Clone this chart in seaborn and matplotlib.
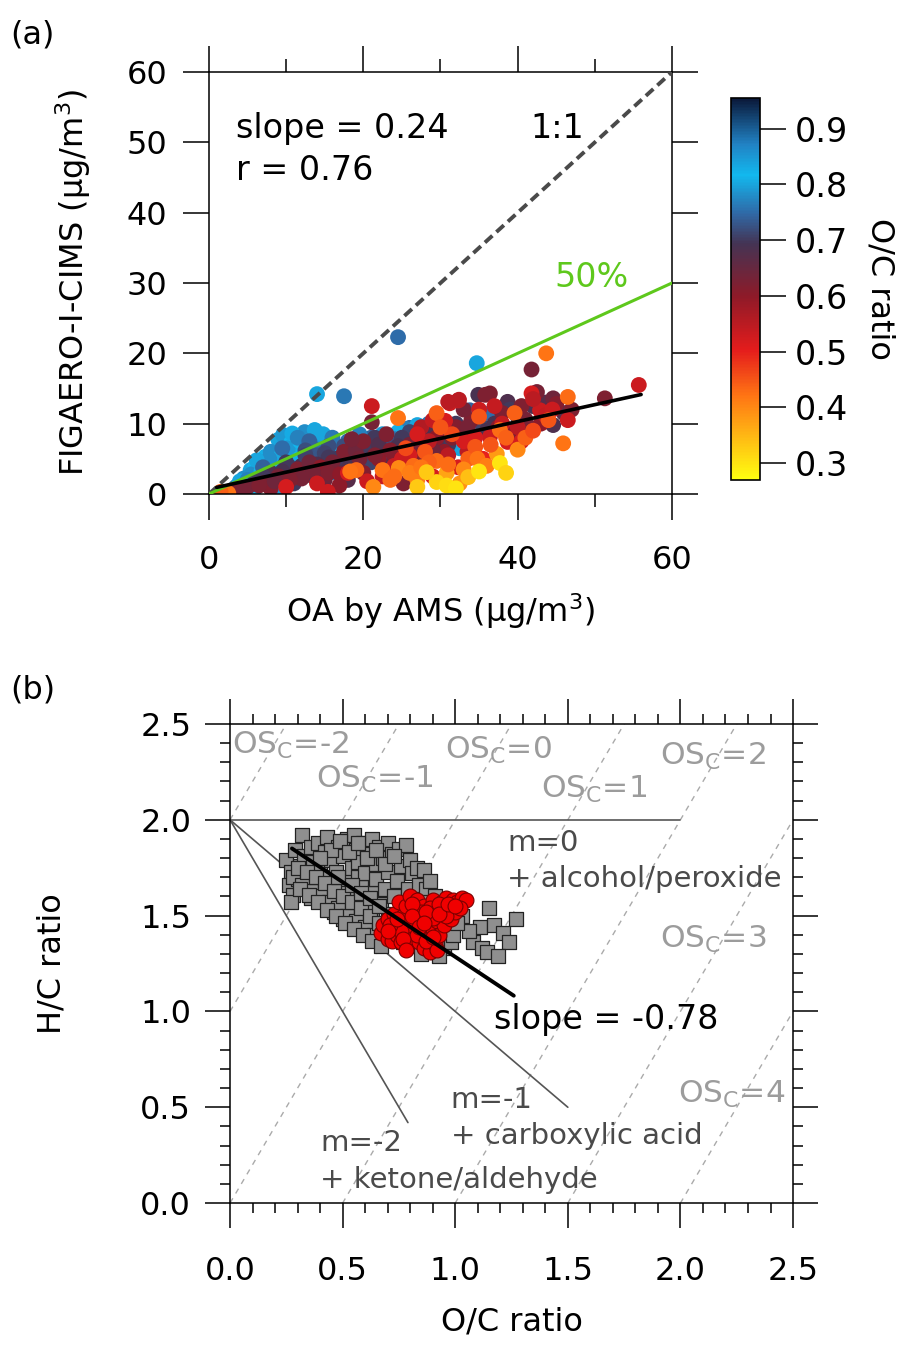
import numpy as np
import pandas as pd
import matplotlib
matplotlib.use('Agg')
import matplotlib.pyplot as plt
import seaborn as sns
from matplotlib.colors import LinearSegmentedColormap, Normalize
from matplotlib.cm import ScalarMappable
from matplotlib.ticker import MultipleLocator, FormatStrFormatter

# --- Panel (a): FIGAERO-I-CIMS vs AMS OA, coloured by O/C ---
oa_ams = [5.4, 6.0, 7.3, 9.0, 9.6, 10.6, 12.4, 13.7, 8.0, 8.5, 10.0, 11.0, 11.5, 12.0, 7.0, 6.5, 9.5,
          13.0, 14.0, 15.0, 16.0, 14.5, 17.0, 18.0, 4.5, 5.0, 8.0, 10.5, 12.5, 3.5, 19.0, 20.5, 22.0,
          14.0, 17.5, 24.5, 34.7, 26.0, 25.6, 26.7, 28.0, 29.0, 32.5, 33.8, 36.4, 30.0, 23.5, 16.5,
          19.5, 24.0, 27.5, 21.0, 9.0, 6.0,
          4.0, 5.5, 6.8, 7.5, 8.8, 9.2, 10.2, 11.2, 12.8, 13.5, 14.8, 15.5, 16.5, 17.8, 18.5, 20.0,
          21.5, 22.5, 24.5, 25.0, 26.5, 27.0, 28.5, 11.8, 10.8, 7.8, 6.2, 5.0,
          12.0, 14.0, 16.0, 18.0, 19.5, 21.0, 23.0, 24.0, 26.0, 27.5, 29.5, 31.0, 9.5, 11.5, 13.0,
          15.5, 17.0, 20.0, 22.5, 7.0,
          10.5, 12.5, 15.0, 17.5, 19.5, 21.5, 23.5, 26.0, 28.0, 30.5,
          4.0, 6.0, 8.0, 10.0, 12.0, 13.5, 15.5, 17.0, 19.0, 21.0, 23.0, 25.0, 27.0, 28.7, 31.0, 34.9,
          38.7, 44.6, 40.0, 35.5, 33.0, 42.0, 18.0, 22.5, 30.0, 37.0, 46.0, 11.0,
          7.0, 9.5, 12.5, 14.0, 16.5, 18.5, 20.5, 22.0, 24.5, 26.5, 29.5, 32.0, 36.0, 39.0, 41.5, 43.5,
          3.0, 5.0, 7.0, 9.0, 11.5, 13.0, 14.5, 16.0, 17.5, 19.0, 20.0, 21.1, 22.0, 23.0, 24.0, 25.2,
          16.9, 26.0, 28.0, 29.5, 32.0, 34.0, 35.8, 36.4, 39.6, 41.0, 41.8, 44.6, 51.3, 43.0, 38.0,
          12.0, 8.0, 27.0, 30.5, 45.0, 33.0, 15.0, 20.0, 18.5,
          4.5, 6.5, 8.5, 10.5, 13.5, 15.5, 17.0, 19.5, 21.5, 23.5, 25.5, 27.5, 29.0, 31.5, 33.5, 37.5,
          40.5, 42.5, 47.0,
          21.1, 15.4, 31.2, 32.3, 30.6, 32.3, 36.4, 38.7, 41.8, 42.9, 43.6, 55.7, 32.4, 31.0, 24.0,
          26.0, 28.5, 34.5, 37.0, 40.0, 18.0, 14.0, 10.0, 22.5, 35.5, 29.0, 46.5, 27.5, 33.5, 20.5,
          25.0, 27.0, 29.0, 31.0, 33.0, 35.0, 38.0, 40.5, 42.0, 44.5,
          2.5, 21.3, 19.1, 22.5, 18.3, 24.6, 24.5, 46.5, 43.7, 45.9, 37.3, 40.0, 30.8, 29.5, 33.6,
          34.5, 34.8, 29.5, 37.7, 39.6, 26.5, 28.0, 31.5, 35.0, 41.0, 30.0, 27.0, 25.5, 32.5, 36.0,
          23.5, 1.5, 24.0, 26.0, 28.5, 31.0, 33.0, 36.5, 38.5, 42.0, 44.0, 27.5,
          37.7, 29.5, 28.2, 33.6, 30.8, 35.0, 27.0, 38.5, 32.0]
cims = [3.4, 3.9, 5.3, 7.7, 8.4, 7.2, 8.8, 9.1, 6.0, 4.5, 5.5, 6.2, 5.0, 6.8, 4.2, 2.5, 3.5,
        5.8, 7.0, 6.0, 7.2, 4.8, 5.5, 6.4, 2.2, 1.5, 2.2, 2.8, 3.5, 1.0, 7.0, 5.8, 6.5,
        14.2, 13.9, 22.3, 18.6, 9.4, 9.2, 9.1, 8.5, 5.3, 6.5, 11.9, 11.5, 8.0, 7.5, 3.0,
        4.0, 6.0, 7.0, 8.0, 1.0, 0.8,
        1.8, 2.8, 3.2, 2.8, 4.0, 5.2, 6.5, 4.2, 4.8, 6.5, 8.5, 4.0, 6.0, 4.8, 5.8, 6.8,
        7.2, 8.5, 8.8, 7.2, 8.0, 9.8, 10.0, 7.5, 8.6, 5.0, 4.8, 2.0,
        3.0, 5.5, 8.0, 7.5, 8.5, 6.0, 6.8, 7.8, 6.5, 8.2, 7.5, 9.0, 6.5, 8.0, 7.5,
        6.8, 3.5, 4.2, 4.8, 3.8,
        3.8, 6.2, 5.8, 6.8, 6.0, 8.0, 7.0, 8.8, 7.8, 8.2,
        0.2, 1.8, 3.0, 4.5, 4.0, 2.5, 5.2, 4.2, 5.5, 4.5, 5.2, 8.0, 6.0, 9.2, 7.0, 14.1,
        13.1, 9.8, 11.0, 9.5, 8.5, 12.5, 2.0, 6.0, 10.5, 10.0, 11.5, 1.5,
        2.5, 3.2, 5.5, 4.2, 5.0, 4.5, 6.5, 7.0, 6.8, 7.5, 6.8, 10.0, 9.0, 12.0, 9.5, 13.0,
        0.5, 1.0, 1.5, 2.5, 3.5, 4.5, 3.8, 4.5, 6.0, 6.2, 7.5, 10.2, 5.0, 8.5, 5.5, 1.5,
        1.2, 7.0, 6.5, 8.0, 9.5, 10.5, 14.1, 14.3, 8.8, 10.6, 17.7, 13.6, 13.6, 10.0, 11.5,
        2.2, 0.8, 4.5, 6.0, 12.8, 12.0, 2.0, 3.0, 7.8,
        0.8, 1.2, 1.8, 2.0, 3.2, 3.0, 2.8, 5.0, 5.5, 6.2, 4.8, 5.5, 6.2, 8.0, 9.5, 9.5,
        12.5, 14.5, 12.0,
        12.5, 0.3, 12.9, 13.3, 10.4, 3.8, 8.1, 7.4, 14.3, 11.9, 11.2, 15.5, 13.4, 13.1, 4.0,
        5.5, 7.5, 8.0, 12.5, 9.5, 3.0, 1.5, 1.0, 2.5, 5.0, 2.5, 10.5, 9.5, 6.0, 1.8,
        5.0, 8.5, 10.5, 5.5, 7.5, 12.0, 10.0, 7.5, 13.5, 12.0,
        0.1, 1.0, 3.4, 3.4, 3.2, 3.7, 10.8, 13.8, 20.0, 7.2, 5.7, 6.3, 3.0, 4.7, 5.0,
        6.7, 5.0, 11.5, 9.1, 11.5, 4.0, 6.0, 8.5, 11.0, 8.0, 9.5, 2.0, 6.5, 1.5, 4.0,
        2.0, 0.3, 2.5, 3.0, 4.5, 4.2, 3.5, 7.0, 8.0, 9.0, 10.5, 3.8,
        4.4, 1.7, 3.1, 2.4, 1.2, 3.2, 1.0, 3.0, 0.8]
oc_a = [.80, .82, .81, .80, .79, .82, .78, .80, .78, .77, .80, .76, .82, .81, .79, .76, .75,
        .83, .79, .77, .80, .81, .76, .74, .78, .80, .82, .80, .78, .76, .80, .76, .79,
        .80, .76, .75, .80, .75, .77, .74, .78, .81, .80, .74, .75, .77, .78, .78,
        .79, .77, .75, .74, .79, .82,
        .80, .78, .81, .77, .82, .80, .79, .81, .77, .75, .80, .79, .81, .75, .80, .77,
        .75, .79, .81, .77, .79, .80, .75, .82, .83, .78, .80, .77,
        .74, .73, .76, .75, .77, .73, .74, .76, .73, .74, .76, .74, .75, .77, .74,
        .72, .75, .74, .73, .74,
        .71, .72, .71, .72, .71, .70, .72, .71, .70, .72,
        .66, .70, .68, .70, .69, .67, .70, .68, .69, .71, .68, .70, .69, .68, .70, .69,
        .68, .68, .70, .71, .67, .69, .67, .72, .70, .69, .67, .70,
        .70, .69, .71, .68, .70, .69, .70, .68, .69, .70, .68, .70, .69, .70, .68, .67,
        .62, .64, .62, .63, .62, .64, .60, .63, .62, .64, .62, .63, .60, .62, .61, .62,
        .60, .63, .62, .60, .61, .62, .62, .62, .61, .63, .63, .64, .62, .60, .62,
        .63, .61, .62, .60, .61, .63, .64, .61, .63,
        .63, .62, .64, .62, .63, .62, .60, .63, .62, .61, .63, .62, .64, .62, .63, .61,
        .62, .63, .62,
        .53, .53, .53, .54, .52, .52, .53, .52, .52, .53, .54, .53, .55, .55, .54,
        .52, .55, .52, .54, .55, .52, .53, .52, .54, .50, .52, .53, .56, .55, .53,
        .53, .52, .54, .55, .52, .53, .54, .52, .55, .53,
        .42, .40, .43, .42, .42, .40, .42, .43, .42, .42, .38, .40, .37, .43, .44,
        .45, .42, .44, .43, .44, .43, .45, .46, .45, .44, .45, .41, .46, .39, .41,
        .43, .44, .43, .41, .44, .43, .40, .45, .44, .46, .45, .42,
        .30, .32, .33, .34, .31, .30, .33, .32, .30]

fit_a_range = [1.0, 56.0]
fit_a_slope = 0.24
fit_a_icpt = 0.7

oc_cbar_ticks = [0.3, 0.4, 0.5, 0.6, 0.7, 0.8, 0.9]

# --- Panel (b): Van Krevelen diagram ---
gray_oc = [0.25, 0.27, 0.26, 0.29, 0.28, 0.31, 0.30, 0.27, 0.33, 0.32,
           0.34, 0.36, 0.35, 0.37, 0.39, 0.38, 0.40, 0.36, 0.42, 0.41,
           0.43, 0.44, 0.45, 0.46, 0.44, 0.48, 0.47, 0.49, 0.46, 0.50,
           0.51, 0.52, 0.53, 0.50, 0.54, 0.55, 0.52, 0.56, 0.55, 0.57,
           0.58, 0.57, 0.59, 0.60, 0.58, 0.61, 0.62, 0.60, 0.63, 0.62,
           0.64, 0.65, 0.63, 0.66, 0.67, 0.65, 0.68, 0.66, 0.69, 0.70,
           0.71, 0.70, 0.72, 0.73, 0.71, 0.74, 0.75, 0.73, 0.76, 0.77,
           0.78, 0.77, 0.79, 0.80, 0.79, 0.81, 0.82, 0.80, 0.83, 0.84,
           0.85, 0.86, 0.84, 0.87, 0.88, 0.86, 0.89, 0.90, 0.88, 0.91,
           0.92, 0.93, 0.94, 0.91, 0.95, 0.96, 0.93, 0.97, 0.98, 0.99,
           0.28, 0.32, 0.36, 0.40, 0.44, 0.48, 0.52, 0.56, 0.60, 0.64,
           0.30, 0.34, 0.38, 0.42, 0.46, 0.50, 0.54, 0.58, 0.62, 0.66,
           0.31, 0.35, 0.39, 0.43, 0.47, 0.51, 0.55, 0.59, 0.63, 0.67,
           0.45, 0.49, 0.53, 0.57, 0.61, 0.65, 0.69, 0.73, 0.40, 0.48,
           0.54, 0.58, 0.62, 0.66, 0.70, 0.74, 0.78, 0.82, 0.85, 0.89,
           1.03, 1.15, 1.27, 1.11, 1.17, 1.21, 1.24, 1.08, 1.12, 1.14, 1.19, 1.06, 1.01]
gray_hc = [1.79, 1.73, 1.66, 1.84, 1.61, 1.76, 1.69, 1.57, 1.81, 1.92,
           1.71, 1.86, 1.64, 1.78, 1.88, 1.67, 1.74, 1.59, 1.83, 1.62,
           1.91, 1.70, 1.79, 1.57, 1.64, 1.86, 1.73, 1.60, 1.52, 1.81,
           1.68, 1.90, 1.55, 1.48, 1.75, 1.92, 1.62, 1.84, 1.51, 1.70,
           1.58, 1.78, 1.88, 1.46, 1.65, 1.82, 1.53, 1.72, 1.90, 1.42,
           1.62, 1.77, 1.49, 1.86, 1.56, 1.69, 1.80, 1.40, 1.64, 1.88,
           1.51, 1.73, 1.82, 1.60, 1.38, 1.68, 1.85, 1.45, 1.76, 1.55,
           1.87, 1.36, 1.64, 1.79, 1.47, 1.72, 1.58, 1.34, 1.75, 1.66,
           1.52, 1.74, 1.42, 1.64, 1.57, 1.32, 1.68, 1.43, 1.35, 1.60,
           1.31, 1.49, 1.38, 1.53, 1.33, 1.45, 1.29, 1.41, 1.36, 1.40,
           1.70, 1.66, 1.63, 1.60, 1.57, 1.54, 1.50, 1.47, 1.44, 1.40,
           1.75, 1.73, 1.70, 1.67, 1.63, 1.60, 1.57, 1.54, 1.50, 1.46,
           1.64, 1.61, 1.57, 1.53, 1.50, 1.46, 1.43, 1.40, 1.37, 1.34,
           1.84, 1.89, 1.83, 1.88, 1.80, 1.84, 1.77, 1.81, 1.80, 1.70,
           1.66, 1.62, 1.59, 1.55, 1.47, 1.50, 1.41, 1.38, 1.30, 1.33,
           1.50, 1.54, 1.48, 1.44, 1.45, 1.41, 1.36, 1.36, 1.33, 1.31, 1.29, 1.42, 1.46]

red_oc = [0.67, 0.68, 0.70, 0.70, 0.72, 0.72, 0.73, 0.74, 0.75, 0.75, 0.76, 0.77, 0.78, 0.78, 0.79,
          0.80, 0.80, 0.81, 0.82, 0.82, 0.83, 0.84, 0.84, 0.85, 0.86, 0.86, 0.87, 0.88, 0.88, 0.89,
          0.90, 0.90, 0.91, 0.91, 0.92, 0.93, 0.94, 0.94, 0.95, 0.96, 0.97, 0.98, 0.99, 1.00, 1.01,
          1.03, 1.05, 1.02, 0.85, 0.79, 0.76, 0.83, 0.87, 0.92, 0.90, 0.96, 0.81, 0.89, 0.93, 0.71,
          0.70, 0.74, 0.77, 0.81, 0.84, 0.87, 0.90, 0.93, 0.97, 1.00, 0.78, 0.86]
red_hc = [1.41, 1.45, 1.38, 1.48, 1.37, 1.43, 1.51, 1.40, 1.46, 1.57, 1.36, 1.50, 1.42, 1.55, 1.35,
          1.47, 1.60, 1.39, 1.52, 1.44, 1.58, 1.36, 1.48, 1.41, 1.55, 1.33, 1.45, 1.50, 1.38, 1.31,
          1.58, 1.43, 1.53, 1.35, 1.47, 1.40, 1.57, 1.51, 1.45, 1.59, 1.54, 1.48, 1.58, 1.52, 1.57,
          1.59, 1.58, 1.54, 1.52, 1.45, 1.42, 1.40, 1.37, 1.32, 1.49, 1.50, 1.56, 1.54, 1.56, 1.45,
          1.42, 1.48, 1.38, 1.50, 1.44, 1.52, 1.39, 1.51, 1.56, 1.55, 1.32, 1.46]

fit_b_range = [0.275, 1.26]
fit_b_slope = -0.78
fit_b_icpt = 2.065

osc_levels = [-2, -1, 0, 1, 2, 3, 4]
m_slopes = [0, -1, -2]
m_ends = [2.0, 1.5, 0.79]

# --- Style ---
sns.set_style('ticks')
plt.rcParams['font.family'] = ['DejaVu Sans']
plt.rcParams['mathtext.fontset'] = 'dejavusans'
plt.rcParams['axes.linewidth'] = 1.1
for key in ('text.color', 'axes.labelcolor', 'xtick.color', 'ytick.color', 'axes.edgecolor'):
    plt.rcParams[key] = 'black'

cmap = LinearSegmentedColormap.from_list('oc', [
    (0.00, '#ffff10'), (0.12, '#ffb414'), (0.22, '#ff7414'), (0.34, '#e41c1c'),
    (0.48, '#8e1a28'), (0.62, '#443454'), (0.70, '#2f6aa8'), (0.80, '#12b8ee'),
    (0.88, '#2182c4'), (1.00, '#0a1838')])
norm = Normalize(vmin=0.27, vmax=0.955)

fig = plt.figure(figsize=(9.15, 13.46), dpi=100)

# ---------- (a) ----------
ax1 = fig.add_axes([0.2284, 0.633, 0.506, 0.3135])
df_a = pd.DataFrame({'OA': oa_ams, 'CIMS': cims, 'OC': oc_a})
sns.scatterplot(data=df_a, x='OA', y='CIMS', hue='OC', palette=cmap, hue_norm=norm,
                s=130, linewidth=0, legend=False, ax=ax1, zorder=2)
ax1.plot([0, 60], [0, 60], color='#4a4a4a', lw=2.8, ls=(0, (2.6, 1.4)), zorder=3)
ax1.plot([0, 60], [0, 30], color='#5ec81c', lw=2.2, zorder=3)
fx = np.array(fit_a_range)
ax1.plot(fx, fit_a_slope * fx + fit_a_icpt, color='black', lw=2.6, zorder=4)

ax1.set_xlim(0, 60)
ax1.set_ylim(0, 60)
ax1.xaxis.set_major_locator(MultipleLocator(20))
ax1.xaxis.set_minor_locator(MultipleLocator(10))
ax1.yaxis.set_major_locator(MultipleLocator(10))
ax1.tick_params(which='both', direction='out', top=True, right=True, width=1.1)
ax1.tick_params(which='major', length=19, labelsize=23)
ax1.tick_params(which='minor', length=9.5)
ax1.tick_params(axis='x', which='major', pad=18)
ax1.tick_params(axis='y', which='major', pad=11)
ax1.set_xlabel('OA by AMS (µg/m$^3$)', fontsize=23, labelpad=11)
ax1.set_ylabel('FIGAERO-I-CIMS (µg/m$^3$)', fontsize=23, labelpad=24)

ax1.text(3.5, 52, 'slope = 0.24', fontsize=24, va='center')
ax1.text(3.5, 46, 'r = 0.76', fontsize=24, va='center')
ax1.text(41.6, 52, '1:1', fontsize=24, va='center')
ax1.text(44.8, 30.8, '50%', fontsize=24, va='center', color='#5ec81c')

# colorbar
cax = fig.add_axes([0.799, 0.6434, 0.0317, 0.2838])
cb = fig.colorbar(ScalarMappable(norm=norm, cmap=cmap), cax=cax, ticks=oc_cbar_ticks)
cb.outline.set_linewidth(1.2)
cb.ax.yaxis.set_major_formatter(FormatStrFormatter('%.1f'))
cb.ax.tick_params(length=19, width=1.1, labelsize=24, pad=6)
cb.ax.minorticks_off()
cb.set_label('O/C ratio', fontsize=23, rotation=270, va='bottom', labelpad=12)

fig.text(0.011, 1 - 35 / 1346, '(a)', fontsize=23, va='center')

# ---------- (b) ----------
ax2 = fig.add_axes([0.2514, 0.1062, 0.6153, 0.3559])
ox = np.array([0.0, 2.5])
for osc in osc_levels:
    ax2.plot(ox, 2 * ox - osc, color='#aaaaaa', lw=1.0, ls=(0, (4, 4)), zorder=1)
for m, xe in zip(m_slopes, m_ends):
    ax2.plot([0, xe], [2.0, 2.0 + m * xe], color='#555555', lw=1.2, zorder=1)

df_g = pd.DataFrame({'OC': gray_oc, 'HC': gray_hc})
df_r = pd.DataFrame({'OC': red_oc, 'HC': red_hc})
sns.scatterplot(data=df_g, x='OC', y='HC', marker='s', s=110, color='#8f8f8f',
                edgecolor='#222222', linewidth=0.9, legend=False, ax=ax2, zorder=2)
sns.scatterplot(data=df_r, x='OC', y='HC', marker='o', s=115, color='#f00000',
                edgecolor='#7a0000', linewidth=0.8, legend=False, ax=ax2, zorder=3)
bx = np.array(fit_b_range)
ax2.plot(bx, fit_b_slope * bx + fit_b_icpt, color='black', lw=2.8, zorder=4)

ax2.set_xlim(0, 2.5)
ax2.set_ylim(0, 2.5)
for axis in (ax2.xaxis, ax2.yaxis):
    axis.set_major_locator(MultipleLocator(0.5))
    axis.set_minor_locator(MultipleLocator(0.1))
    axis.set_major_formatter(FormatStrFormatter('%.1f'))
ax2.tick_params(which='both', direction='out', top=True, right=True, width=1.1)
ax2.tick_params(which='major', length=18, labelsize=23)
ax2.tick_params(which='minor', length=7.5)
ax2.tick_params(axis='x', which='major', pad=20)
ax2.tick_params(axis='y', which='major', pad=10)
ax2.set_xlabel('O/C ratio', fontsize=23, labelpad=14)
ax2.set_ylabel('H/C ratio', fontsize=23, labelpad=52)

osc_color = '#9c9c9c'
osc_pos = [(0.01, 2.39), (0.38, 2.21), (0.955, 2.36), (1.38, 2.16), (1.91, 2.33), (1.91, 1.375), (1.99, 0.566)]
for osc, (px, py) in zip(osc_levels, osc_pos):
    ax2.text(px, py, 'OS$_\\mathrm{C}$=%d' % osc, fontsize=22.5, color=osc_color, va='center')

m_color = '#4a4a4a'
ax2.text(1.23, 1.88, 'm=0', fontsize=21, color=m_color, va='center')
ax2.text(1.23, 1.69, '+ alcohol/peroxide', fontsize=21, color=m_color, va='center')
ax2.text(0.98, 0.54, 'm=-1', fontsize=21, color=m_color, va='center')
ax2.text(0.98, 0.35, '+ carboxylic acid', fontsize=21, color=m_color, va='center')
ax2.text(0.40, 0.315, 'm=-2', fontsize=21, color=m_color, va='center')
ax2.text(0.40, 0.12, '+ ketone/aldehyde', fontsize=21, color=m_color, va='center')
ax2.text(1.17, 0.96, 'slope = -0.78', fontsize=24, color='black', va='center')

fig.text(0.011, 1 - 690 / 1346, '(b)', fontsize=23, va='center')

fig.savefig('out.png', dpi=100)
